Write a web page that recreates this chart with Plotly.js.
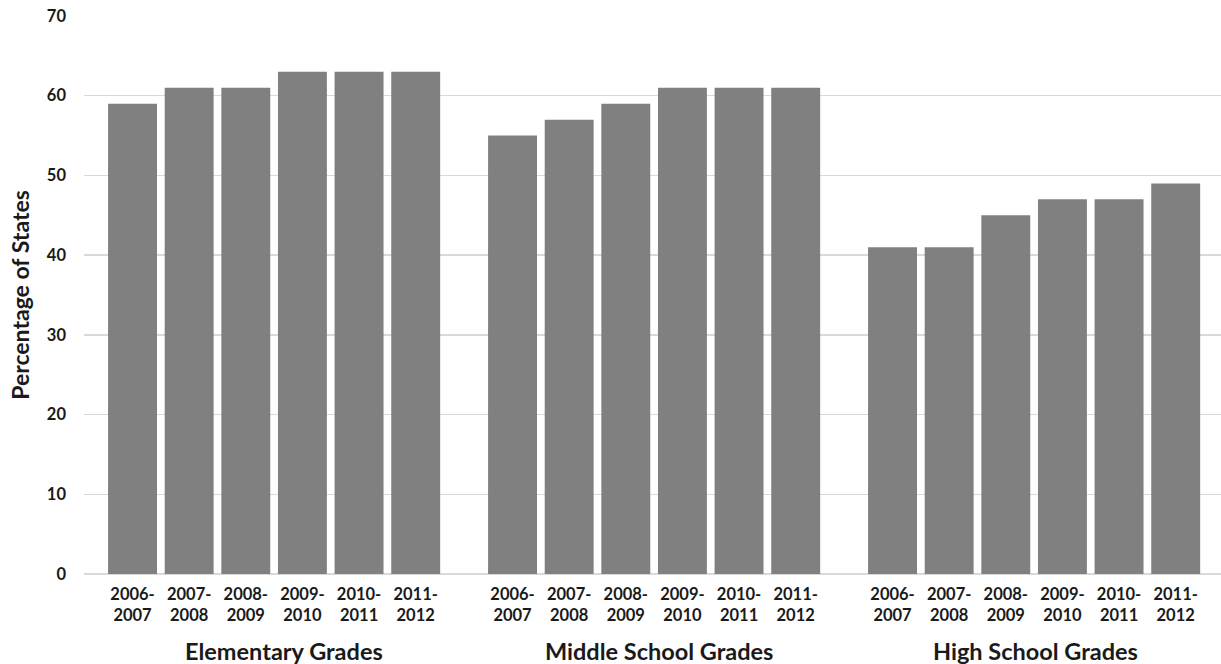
<!DOCTYPE html>
<html>
<head>
<meta charset="utf-8">
<script src="https://cdn.plot.ly/plotly-3.0.1.min.js"></script>
<style>html,body{margin:0;padding:0;background:#fff;}#chart{width:1221px;height:664px;}</style>
</head>
<body>
<div id="chart"></div>
<script>
const years = ["2006-<br>2007","2007-<br>2008","2008-<br>2009","2009-<br>2010","2010-<br>2011","2011-<br>2012"];
const groups = ["Elementary Grades","Middle School Grades","High School Grades"];
const elementary = [59, 61, 61, 63, 63, 63];
const middle = [55, 57, 59, 61, 61, 61];
const high = [41, 41, 45, 47, 47, 49];
const seriesByGroup = [elementary, middle, high];

const groupStep = 6.71;
const labelShift = [10, 5, 1];
const xs = [], ys = [], tickvals = [], ticktext = [];
seriesByGroup.forEach((vals, g) => {
  vals.forEach((v, i) => {
    const x = g * groupStep + i;
    xs.push(x); ys.push(v);
    tickvals.push(x); ticktext.push(years[i]);
  });
});

const FONT = "Lato, 'Open Sans', sans-serif";
const annotations = groups.map((name, g) => ({
  x: g * groupStep + 2.5, xref: 'x', y: -0.11, yref: 'paper', xshift: labelShift[g],
  text: '<b>' + name + '</b>', showarrow: false, yanchor: 'top',
  font: {family: FONT, size: 23.5, color: '#1a1a1a'}
}));

const trace = {
  type: 'bar', x: xs, y: ys, width: 0.864,
  marker: {color: '#808080'}, hoverinfo: 'y'
};

const layout = {
  width: 1221, height: 664,
  margin: {l: 84, r: 0, t: 16, b: 90},
  paper_bgcolor: '#fff', plot_bgcolor: '#fff',
  showlegend: false,
  font: {family: FONT, color: '#1a1a1a'},
  xaxis: {
    range: [-0.857, 2 * groupStep + 5 + 0.80],
    tickvals: tickvals, ticktext: ticktext.map(t => '<b>' + t.replace('<br>', '</b><br><b>') + '</b>'),
    tickangle: 0, showgrid: false, zeroline: false, showline: false,
    ticks: '', ticklabelstandoff: 8,
    tickfont: {family: FONT, size: 16.5, color: '#1a1a1a'}
  },
  yaxis: {
    range: [0, 70], dtick: 10, showgrid: true, gridcolor: '#d9d9d9', gridwidth: 1.5,
    zeroline: true, zerolinecolor: '#d9d9d9', zerolinewidth: 1.5,
    ticks: '', ticklabelstandoff: 17,
    tickfont: {family: FONT, size: 16.5, color: '#1a1a1a'},
    tickprefix: '<b>', ticksuffix: '</b>',
    title: {text: '<b>Percentage of States</b>', font: {family: FONT, size: 23, color: '#1a1a1a'}, standoff: 10}
  },
  annotations: annotations
};

Plotly.newPlot('chart', [trace], layout, {displayModeBar: false, staticPlot: true});
</script>
</body>
</html>
